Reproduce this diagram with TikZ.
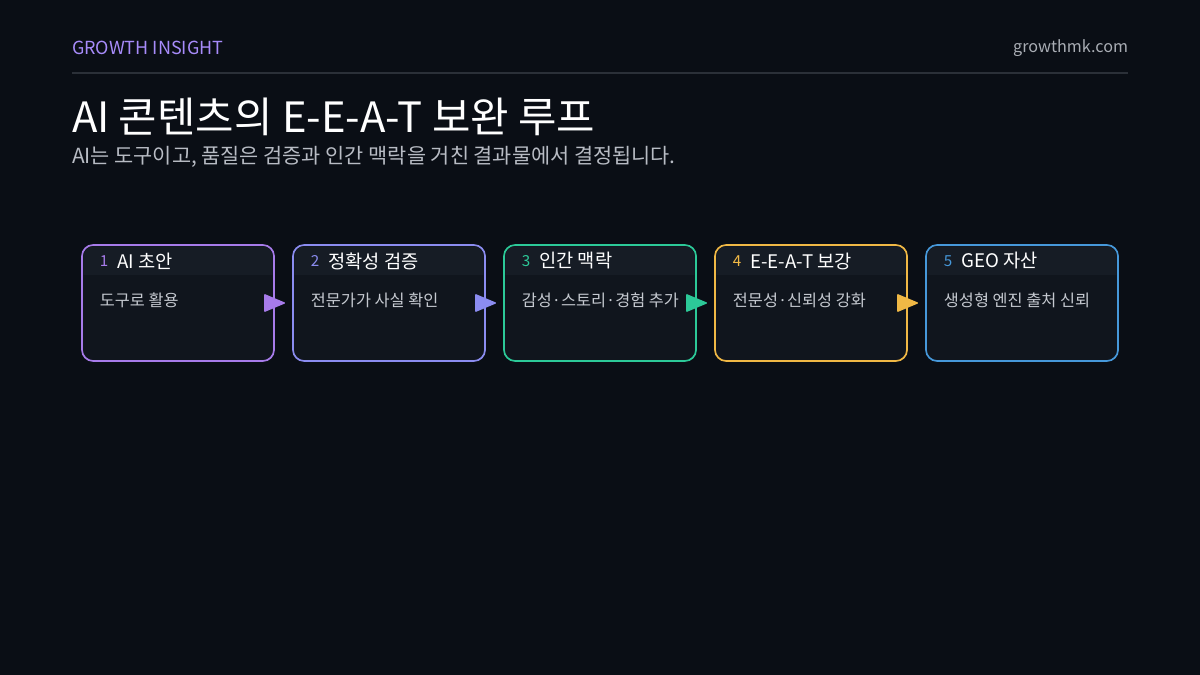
\documentclass[tikz,border=0pt]{standalone}
\usepackage{fontspec}
\setmainfont{Noto Sans CJK KR}
\usepackage{tikz}
\usetikzlibrary{arrows.meta,positioning}

\definecolor{bgcolor}{HTML}{0A0E15}
\definecolor{rulecolor}{HTML}{2B3038}
\definecolor{boxfill}{HTML}{10151D}
\definecolor{headfill}{HTML}{161C25}
\definecolor{kicker}{HTML}{A78BFA}
\definecolor{urlgray}{HTML}{A9ADB4}
\definecolor{subgray}{HTML}{B8BCC4}
\definecolor{bodygray}{HTML}{C5C9D0}
\definecolor{stepA}{HTML}{A77BEA}
\definecolor{stepB}{HTML}{8B8CF0}
\definecolor{stepC}{HTML}{2CC998}
\definecolor{stepD}{HTML}{F0B845}
\definecolor{stepE}{HTML}{4698DA}

\begin{document}
\begin{tikzpicture}[x=0.025cm, y=-0.025cm,
    plain/.style={inner sep=0pt, outer sep=0pt},
    stepbox/.style={plain, minimum width=4.8cm, minimum height=2.9cm, rounded corners=0.28cm, fill=boxfill, line width=1.2pt},
    numtext/.style={plain, anchor=west, font=\fontsize{10.8}{13}\selectfont},
    headtext/.style={plain, anchor=west, text=white, font=\fontsize{13.3}{16}\selectfont},
    bodytext/.style={plain, anchor=west, text=bodygray, font=\fontsize{11.6}{14}\selectfont},
    flow/.style={line width=1pt, shorten >=0.2cm, -{Triangle[length=0.55cm, width=0.45cm, round]}}]
      % page
      \fill [bgcolor] (0, 0) rectangle (1200, 675);
      % header
      \node [plain, anchor=west, text=kicker, font=\fontsize{12.8}{15}\selectfont] (kicker) at (72, 48) {GROWTH INSIGHT};
      \node [plain, anchor=east, text=urlgray, font=\fontsize{11.5}{14}\selectfont] (url) at (1128, 48) {growthmk.com};
      \draw [rulecolor, line width=1.4pt] (72, 73) -- (1128, 73);
      % title
      \node [plain, anchor=base west, text=white, font=\fontsize{29.7}{35}\selectfont] (title) at (72, 133) {AI 콘텐츠의 E-E-A-T 보완 루프};
      \node [plain, anchor=base west, text=subgray, font=\fontsize{14.8}{18}\selectfont] (subtitle) at (72, 164) {AI는 도구이고, 품질은 검증과 인간 맥락을 거친 결과물에서 결정됩니다.};
      \foreach \n/\x/\col/\head/\body in {1/178/stepA/AI 초안/도구로 활용, 2/389/stepB/정확성 검증/전문가가 사실 확인, 3/600/stepC/인간 맥락/감성·스토리·경험 추가, 4/811/stepD/E-E-A-T 보강/전문성·신뢰성 강화, 5/1022/stepE/GEO 자산/생성형 엔진 출처 신뢰} {
        % boxes
        \node [stepbox, draw=\col] (b\n) at (\x, 303) {};
        \begin{scope}
          \clip [rounded corners=0.25cm] ([shift={(1.5, 1.5)}]b\n.north west) rectangle ([shift={(-1.5, -1.5)}]b\n.south east);
          \fill [headfill] (b\n.north west) rectangle ([shift={(0, 30)}]b\n.north east);
        \end{scope}
        % labels
        \node [numtext, text=\col] (n\n) at ([shift={(18, 16)}]b\n.north west) {\n};
        \node [headtext, right=0.22cm of n\n] (t\n) {\head};
        \node [bodytext] (d\n) at ([shift={(18, 55)}]b\n.north west) {\body};
      }
      % arrows
      \foreach \n/\m/\col in {1/2/stepA, 2/3/stepB, 3/4/stepC, 4/5/stepD}
        \draw [flow, \col] (b\n.east) -- (b\m.west);
    \end{tikzpicture}
\end{document}
